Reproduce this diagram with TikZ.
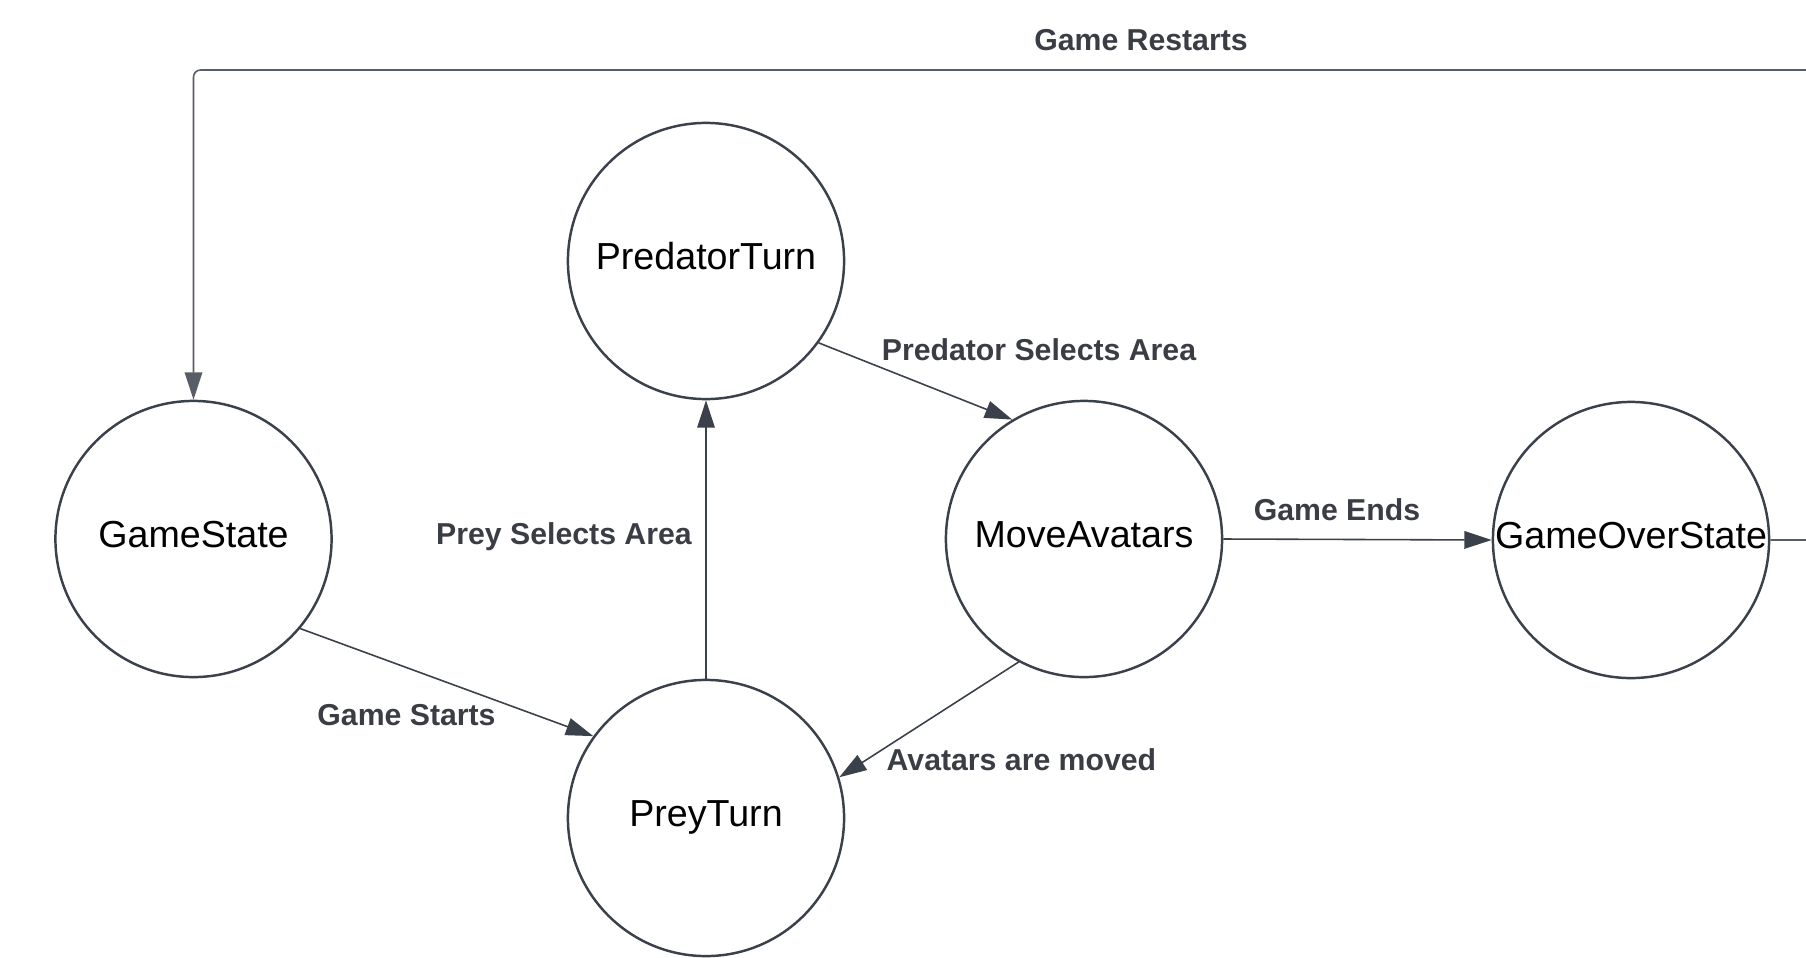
\documentclass[tikz,border=0pt]{standalone}
\usepackage{fontspec}
\setmainfont{Liberation Sans}
\usetikzlibrary{arrows.meta}
\definecolor{ln}{HTML}{3A414A}
\definecolor{lbl}{HTML}{3A3D44}
\newcommand\sttext[1]{\raisebox{-0.08cm}[0pt][0pt]{#1}}
\begin{document}
\begin{tikzpicture}[x=0.01cm,y=-0.01cm,
  state/.style={circle, draw=ln, line width=0.7pt, minimum size=2.76cm, inner sep=0pt,
    font=\fontsize{10.7}{13}\selectfont, text=black},
  conn/.style={draw=ln, line width=0.45pt, -{Triangle[length=7.8pt,width=5pt]}},
  lab/.style={font=\fontsize{8.6}{10}\selectfont\bfseries, text=lbl, inner sep=0pt}]
\useasboundingbox (0,0) rectangle (1806,957);
\clip (0,0) rectangle (1806,957);
\node[state] (gs) at (193.5,539) {\sttext{GameState}};
\node[state] (pt) at (706,261) {\sttext{PredatorTurn}};
\node[state] (ma) at (1084,539) {\sttext{MoveAvatars}};
\node[state] (go) at (1631,540) {\sttext{GameOverState}};
\node[state] (py) at (706,818) {\sttext{PreyTurn}};
\coordinate (rc1) at (1850,540);
\coordinate (rc2) at (1850,70);
% connectors
\draw[conn] (gs.-40.3) -- (py.144.3);
\draw[conn] (py.north) -- (pt.south);
\draw[conn] (pt.-36.6) -- (ma.121);
\draw[conn] (ma.-118.4) -- (py.17);
\draw[conn] (ma.east) -- (go.west);
\draw[conn, draw=ln!85, rounded corners=2pt] (go.east) -- (rc1) -- (rc2) -| (gs.north);
% labels
\node[lab] (l1) at (1141,40) {Game Restarts};
\node[lab] (l2) at (1039,350) {Predator Selects Area};
\node[lab] (l3) at (564,537) {Prey Selects Area};
\node[lab] (l4) at (1337,510) {Game Ends};
\node[lab] (l5) at (406.5,715) {Game Starts};
\node[lab] (l6) at (1021.5,760) {Avatars are moved};
\end{tikzpicture}
\end{document}
